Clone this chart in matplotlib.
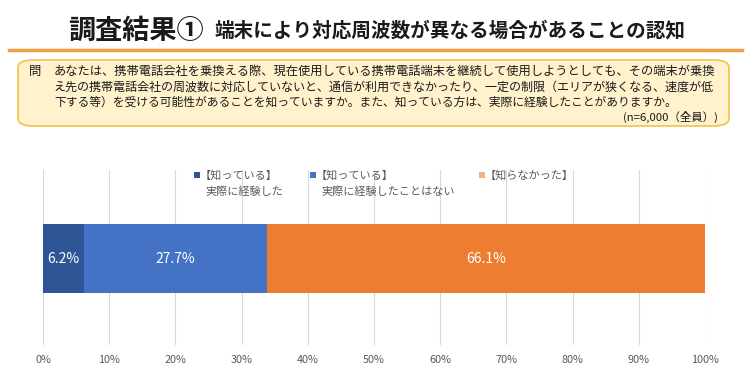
import matplotlib
matplotlib.use("Agg")
import matplotlib.pyplot as plt
from matplotlib.patches import FancyBboxPatch, Rectangle
from matplotlib.lines import Line2D

plt.rcParams['font.family'] = ['Noto Sans CJK JP', 'DejaVu Sans']

# ---- data ----
categories = ['【知っている】\n実際に経験した', '【知っている】\n実際に経験したことはない', '【知らなかった】']
values = [6.2, 27.7, 66.1]
bar_colors = ['#2F5597', '#4472C4', '#ED7D31']
legend_colors = ['#2F5597', '#4472C4', '#F4B183']
xticks = [0, 10, 20, 30, 40, 50, 60, 70, 80, 90, 100]
xtick_labels = [f'{t}%' for t in xticks]

title_main = '調査結果①'
title_sub = '端末により対応周波数が異なる場合があることの認知'
question_lines = [
    'あなたは、携帯電話会社を乗換える際、現在使用している携帯電話端末を継続して使用しようとしても、その端末が乗換',
    'え先の携帯電話会社の周波数に対応していないと、通信が利用できなかったり、一定の制限（エリアが狭くなる、速度が低',
    '下する等）を受ける可能性があることを知っていますか。また、知っている方は、実際に経験したことがありますか。',
]
sample_note = '(n=6,000（全員）)'

W, H = 750, 381
fig = plt.figure(figsize=(W / 100, H / 100), dpi=100)
fig.patch.set_facecolor('white')

def fx(px):
    return px / W

def fy(py):
    return 1 - py / H

# ---- title ----
fig.text(fx(68), fy(31), title_main, fontsize=19.5, fontweight='bold', va='center', ha='left', color='#1a1a1a')
fig.text(fx(215), fy(31), title_sub, fontsize=14.1, fontweight='bold', va='center', ha='left', color='#1a1a1a')
fig.add_artist(Line2D([fx(9), fx(742)], [fy(50), fy(50)], color='#F0A040', lw=2.5, transform=fig.transFigure))

# ---- question box ----
box = FancyBboxPatch((fx(18), fy(126)), fx(729) - fx(18), fy(60) - fy(126),
                     boxstyle='round,pad=0,rounding_size=0.02', transform=fig.transFigure,
                     facecolor='#FFF2CC', edgecolor='#F2C14E', lw=1.2)
fig.add_artist(box)
fig.text(fx(29), fy(71.5), '問', fontsize=8.85, va='center', ha='left', color='#1a1a1a')
line_y = [71.5, 87, 102.5]
line_right = [718, 718, 682]
renderer = fig.canvas.get_renderer()
for txt, yy, rr in zip(question_lines, line_y, line_right):
    t = fig.text(fx(54), fy(yy), txt, fontsize=8.8, va='center', ha='left', color='#1a1a1a')
    w = t.get_window_extent(renderer=renderer).width
    t.set_fontsize(8.8 * (rr - 54) / w)
fig.text(fx(718), fy(117), sample_note, fontsize=8.2, va='center', ha='right', color='#1a1a1a')

# ---- chart ----
ax = fig.add_axes([fx(43), fy(345), fx(705) - fx(43), fy(170) - fy(345)])
ax.set_xlim(0, 100)
ax.set_ylim(0, 1)
left = 0
for v, c in zip(values, bar_colors):
    ax.barh(0.494, v, left=left, height=0.394, color=c, edgecolor='none', zorder=3)
    ax.text(left + v / 2, 0.494, f'{v}%', color='white', fontsize=10, ha='center', va='center', zorder=4)
    left += v
for t in xticks:
    ax.axvline(t, color='#D9D9D9', lw=0.8, zorder=1)
ax.set_xticks(xticks)
ax.set_xticklabels(xtick_labels, color='#595959', fontsize=7.8)
ax.tick_params(axis='x', length=0, pad=7)
ax.set_yticks([])
for s in ax.spines.values():
    s.set_visible(False)

# ---- legend ----
leg_x = [194, 310, 479]
for cat, col, lx in zip(categories, legend_colors, leg_x):
    fig.add_artist(Rectangle((fx(lx), fy(178)), fx(6), fy(172) - fy(178), transform=fig.transFigure,
                             facecolor=col, edgecolor='none'))
    lines = cat.split('\n')
    fig.text(fx(lx + 6), fy(175.5), lines[0], fontsize=8, color='#595959', va='center', ha='left')
    if len(lines) > 1:
        fig.text(fx(lx + 11), fy(192), lines[1], fontsize=8, color='#595959', va='center', ha='left')

fig.savefig('out.png', dpi=100)
